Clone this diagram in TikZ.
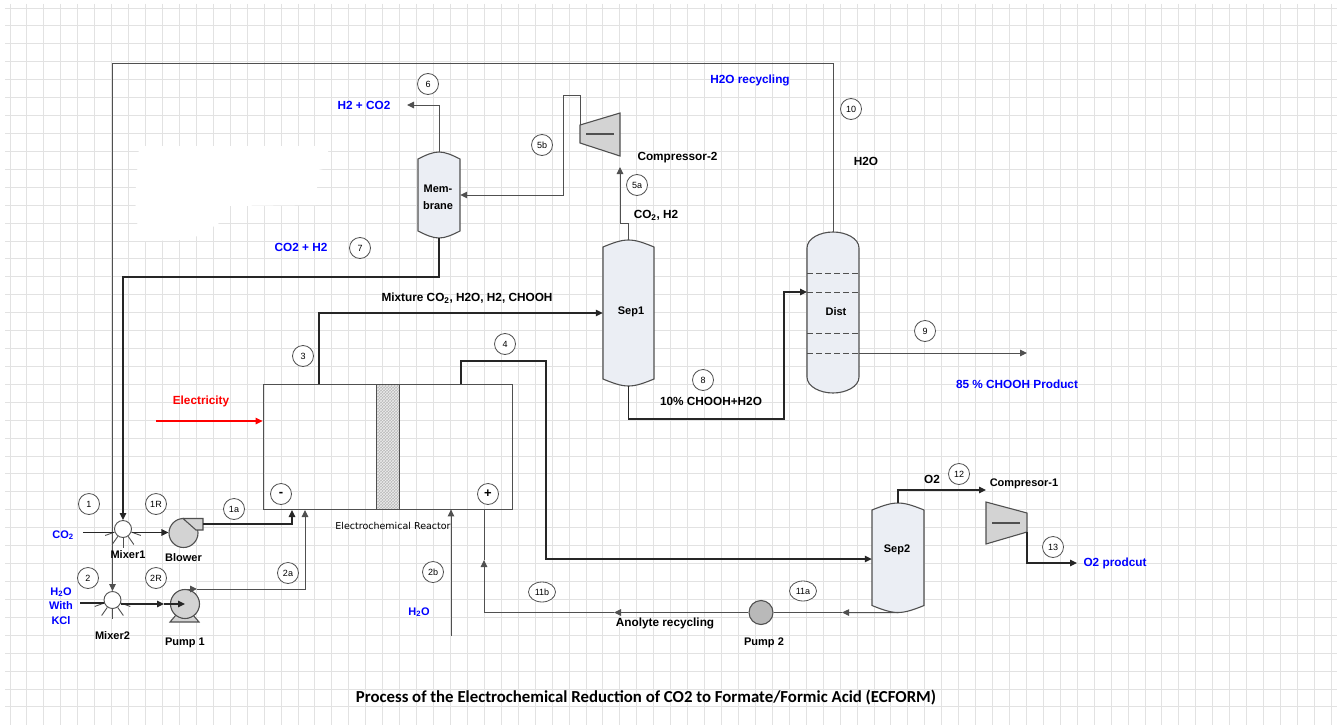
\documentclass[tikz,border=0pt]{standalone}
\usepackage{fontspec}
\setmainfont{Liberation Sans}
\newfontfamily\titlefont{Carlito}
\newfontfamily\reactorfont{DejaVu Sans}
\usepackage{xcolor}
\usepackage{tikz}
\usetikzlibrary{shapes,arrows,arrows.meta,positioning,calc,patterns}

\definecolor{gridgray}{HTML}{E2E2E2}
\definecolor{vesselblue}{HTML}{EBEEF4}
\definecolor{bodygray}{HTML}{D3D3D3}
\definecolor{edgegray}{HTML}{505050}

% name, centre x, top, bottom, half width, dome
\newcommand{\vessel}[7][0.6]{
\draw[vesselbody] (#3-#6,#4+#7) -- (#3-#6,#5-#7)
  .. controls (#3-#6*#1,#5-#7*0.4) and (#3-#6*#1*0.5,#5) .. (#3,#5)
  .. controls (#3+#6*#1*0.5,#5) and (#3+#6*#1,#5-#7*0.4) .. (#3+#6,#5-#7)
  -- (#3+#6,#4+#7)
  .. controls (#3+#6*#1,#4+#7*0.4) and (#3+#6*#1*0.5,#4) .. (#3,#4)
  .. controls (#3-#6*#1*0.5,#4) and (#3-#6*#1,#4+#7*0.4) .. cycle;
\node[minimum width=2*#6*1pt, minimum height=(#5-#4)*1pt, inner sep=0pt] (#2) at (#3,#4/2+#5/2) {};
}

\begin{document}
\begin{tikzpicture}[
    x=1pt, y=-1pt,
    >={Stealth[inset=0pt,length=7pt,width=6.5pt]},
    gridline/.style={draw=gridgray, line width=0.9pt},
    flowline/.style={draw=black!85, line width=1.1pt},
    myedge/.style={->, flowline},
    thinline/.style={draw=edgegray, line width=1pt},
    thinedge/.style={->, thinline},
    vesselbody/.style={draw=edgegray, fill=vesselblue, line width=1.1pt},
    machine/.style={draw=edgegray, fill=bodygray, line width=1.1pt},
    tagnode/.style={draw=edgegray, circle, fill=white, line width=0.8pt, minimum size=21pt, inner sep=0pt, font=\fontsize{9}{9}\selectfont},
    tagwide/.style={tagnode, ellipse, minimum width=27pt, minimum height=20pt},
    namelabel/.style={inner sep=0pt, font=\fontsize{11}{13}\selectfont\bfseries},
    streamlabel/.style={inner sep=0pt, font=\fontsize{11.8}{13}\selectfont\bfseries},
    bluelabel/.style={streamlabel, text=blue},
    feedlabel/.style={namelabel, text=blue, align=center},
    hubnode/.style={draw=edgegray, circle, fill=white, minimum size=17pt, inner sep=0pt, line width=0.9pt},
    raynode/.style={draw=edgegray, line width=0.9pt}
]
\useasboundingbox (0,0) rectangle (1337,725);
\fill[white] (0,0) rectangle (1337,725);

% grid of the sheet
\foreach \i in {0,...,78} \draw[gridline] (10+\i*16.94,4) -- (10+\i*16.94,725);
\foreach \i in {0,...,39} \draw[gridline] (5,8+\i*17.92) -- (1337,8+\i*17.92);
\fill[white] (139,146) -- (328,146) -- (328,168) -- (318,170) -- (316,205) -- (230,206) -- (218,224) -- (190,240) -- (139,241) -- (135,200) -- cycle;

% vessels
\vessel{membrane}{439}{152}{238}{21}{7}
\vessel{sepa}{628.5}{240}{386}{25.5}{7}
\vessel{sepb}{898}{503}{612.5}{26}{7}
\vessel[1]{dist}{833}{232}{393}{26}{16}
\node[namelabel, align=center] (membranename) at (438,197) {Mem-\\[4pt]brane};
\node[namelabel] (sepaname) at (631,312) {Sep1};
\node[namelabel] (sepbname) at (897,550) {Sep2};
\node[namelabel] (distname) at (836,312) {Dist};
\foreach \y in {273,292,333,353} \draw[edgegray, line width=1pt, dash pattern=on 6pt off 3pt] (807,\y) -- (859,\y);

% reactor
\node[draw=edgegray, line width=0.8pt, minimum width=249pt, minimum height=125pt] (reactor) at (387.5,446.5) {};
\fill[gray!55] (376.5,384) rectangle (399.5,509);
\draw[edgegray, line width=0.9pt, pattern=crosshatch, pattern color=white!85!gray] (376.5,384) rectangle (399.5,509);
\node[tagnode, font=\fontsize{13}{13}\selectfont\bfseries] (minus) at (281,494) {-};
\node[tagnode, font=\fontsize{13}{13}\selectfont\bfseries] (plus) at (488,494) {+};
\node[inner sep=0pt, font=\reactorfont\fontsize{9.5}{11}\selectfont] (reactorname) at (393,526) {Electrochemical Reactor};

% mixers, blower, pumps
\node[hubnode] (mixa) at (123,529) {};
\node[hubnode] (mixb) at (112.5,600) {};
\foreach \a in {200,235,270,305,340} {
  \draw[raynode] (mixa.\a) -- +(\a:10pt);
  \draw[raynode] (mixb.\a) -- +(\a:10pt);
}
\node[machine, circle, minimum size=29pt, inner sep=0pt] (blower) at (183.5,533) {};
\filldraw[machine] (183,518.5) -- (203,518.5) -- (203,530) -- (196,530) -- cycle;
\filldraw[machine] (170,622) -- (199,622) -- (193,615) -- (176,615) -- cycle;
\node[machine, circle, minimum size=29pt, inner sep=0pt] (pumpa) at (185,604) {};
\node[machine, fill=gray!55, circle, minimum size=24pt, inner sep=0pt] (pumpb) at (761,612.5) {};

% compressors
\filldraw[machine] (580,125) -- (620,113) -- (620,156) -- (580,143) -- cycle;
\draw[edgegray, line width=1.1pt] (586,134) -- (614,134);
\filldraw[machine] (986,502) -- (1027,513) -- (1027,532) -- (986,544) -- cycle;
\draw[edgegray, line width=1.1pt] (992,523) -- (1020,523);

% free ends of the connectors
\coordinate (recycle) at (112.5,63);
\coordinate (membraneturn) at (123,277);
\coordinate (co2feed) at (83,532.5);
\coordinate (h2ofeed) at (80,603);
\coordinate (blowerout) at (203,524);
\coordinate (cathodein) at (292,510);
\coordinate (pumpout) at (185,589);
\coordinate (pumptip) at (197,589);
\coordinate (cathodeinb) at (305,510);
\coordinate (pumpin) at (164,604);
\coordinate (pumpcentre) at (185,604);
\coordinate (elecin) at (156,421);
\coordinate (waterin) at (451,636);
\coordinate (anodein) at (484,510);
\coordinate (anodetip) at (484,560);
\coordinate (anodeturn) at (484,612.5);
\coordinate (anolytetip) at (614,612.5);
\coordinate (backtip) at (842,612.5);
\coordinate (cathodeout) at (319,384);
\coordinate (anodeout) at (461,384);
\coordinate (anodehigh) at (546,361);
\coordinate (sepbin) at (546,559);
\coordinate (botturn) at (784,419);
\coordinate (distin) at (807,292);
\coordinate (bottoms) at (859,353);
\coordinate (product) at (1027,353);
\coordinate (sepaleft) at (620,223);
\coordinate (compbin) at (620,167);
\coordinate (compbout) at (580,125);
\coordinate (compbtop) at (563,95);
\coordinate (gasout) at (407,105);
\coordinate (compain) at (986,490);
\coordinate (compaout) at (1027,532);
\coordinate (o2out) at (1077,563);

% connectors
\draw[->, red, line width=1.3pt] (elecin) -- (elecin -| reactor.west);
\draw[thinedge] (dist.north) |- (recycle) -- (mixb.north);
\draw[myedge] (membrane.south) |- (membraneturn) -- (mixa.north);
\draw[flowline] (co2feed) -- (co2feed -| mixa.west);
\draw[myedge] (mixa.east |- co2feed) -- (co2feed -| blower.west);
\draw[flowline] (h2ofeed) -- (h2ofeed -| mixb.west);
\draw[myedge] (mixb.east |- pumpin) -- (pumpin);
\draw[myedge] (pumpin) -- (pumpcentre);
\draw[myedge] (blowerout) -| (cathodein);
\draw[thinedge] (pumpout) -- (pumptip);
\draw[thinedge] (pumptip) -| (cathodeinb);
\draw[myedge] (cathodeout) |- (sepa.west);
\draw[myedge] (anodeout) |- (anodehigh) -- (sepbin) -- (sepbin -| sepb.west);
\draw[myedge] (sepa.south) |- (botturn) |- (distin);
\draw[thinedge] (bottoms) -- (product);
\draw[thinedge] (sepa.north) |- (sepaleft) -- (compbin);
\draw[thinedge] (compbout) |- (compbtop) |- (membrane.east);
\draw[thinedge] (membrane.north) |- (gasout);
\draw[myedge] (sepb.north) |- (compain);
\draw[myedge] (compaout) |- (o2out);
\draw[thinedge] (sepb.south) -- (backtip);
\draw[thinline] (backtip) -- (pumpb.east);
\draw[thinedge] (pumpb.west) -- (anolytetip);
\draw[thinline] (anolytetip) -- (anodeturn);
\draw[thinedge] (anodeturn) -- (anodetip);
\draw[thinline] (anodetip) -- (anodein);
\draw[thinedge] (waterin) -- (waterin |- reactor.south);

% stream numbers
\node[tagnode] (t1) at (89,504) {1};
\node[tagnode] (t1r) at (156,504) {1R};
\node[tagnode] (t1a) at (234,509) {1a};
\node[tagnode] (t2) at (88,578) {2};
\node[tagnode] (t2r) at (156,578) {2R};
\node[tagnode] (t2a) at (288,573) {2a};
\node[tagnode] (t2b) at (433,572) {2b};
\node[tagnode] (t3) at (303,356) {3};
\node[tagnode] (t4) at (505,344) {4};
\node[tagnode] (t5a) at (637,185) {5a};
\node[tagnode] (t5b) at (542,145) {5b};
\node[tagnode] (t6) at (428,84) {6};
\node[tagnode] (t7) at (360,248) {7};
\node[tagnode] (t8) at (703,380) {8};
\node[tagnode] (t9) at (925,331) {9};
\node[tagnode] (t10) at (851,109) {10};
\node[tagwide] (t11a) at (803,591) {11a};
\node[tagwide] (t11b) at (542,592) {11b};
\node[tagnode] (t12) at (959,474) {12};
\node[tagnode] (t13) at (1053,547) {13};

% names
\node[namelabel, below=12pt of mixa, xshift=5pt] (mixaname) {Mixer1};
\node[namelabel, below=5pt of blower] (blowername) {Blower};
\node[namelabel, below=22pt of mixb] (mixbname) {Mixer2};
\node[namelabel, below=19pt of pumpa] (pumpaname) {Pump 1};
\node[namelabel, below=13pt of pumpb, xshift=3pt] (pumpbname) {Pump 2};
\node[streamlabel] (compbname) at (677.5,158) {Compressor-2};
\node[namelabel] (companame) at (1024,484) {Compresor-1};
\node[streamlabel] (mixture) at (467,298) {Mixture CO\textsubscript{2}, H2O, H2, CHOOH};
\node[streamlabel] (topgas) at (656,215) {CO\textsubscript{2}, H2};
\node[streamlabel] (waterlabel) at (866,161) {H2O};
\node[streamlabel] (liquid) at (711,401) {10\% CHOOH+H2O};
\node[streamlabel] (o2label) at (932,479) {O2};
\node[streamlabel] (anolyte) at (665,623) {Anolyte recycling};
\node[feedlabel] (co2label) at (63,535) {CO\textsubscript{2}};
\node[feedlabel, font=\fontsize{11}{14.5}\selectfont\bfseries] (h2olabel) at (61,606) {H\textsubscript{2}O\\With\\KCl};
\node[feedlabel] (waterfeed) at (419,612) {H\textsubscript{2}O};
\node[bluelabel] (gaslabel) at (364,105) {H2 + CO2};
\node[bluelabel] (recyclelabel) at (301,247) {CO2 + H2};
\node[bluelabel] (h2orecycle) at (750,80) {H2O recycling};
\node[bluelabel] (productlabel) at (1017,384) {85 \% CHOOH Product};
\node[bluelabel] (o2product) at (1115,563) {O2 prodcut};
\node[streamlabel, text=red] (electricity) at (201,401) {Electricity};
\node[inner sep=0pt, font=\titlefont\fontsize{16.8}{18}\selectfont\bfseries] (title) at (646,698) {Process of the Electrochemical Reduction of CO2 to Formate/Formic Acid (ECFORM)};
\end{tikzpicture}
\end{document}
